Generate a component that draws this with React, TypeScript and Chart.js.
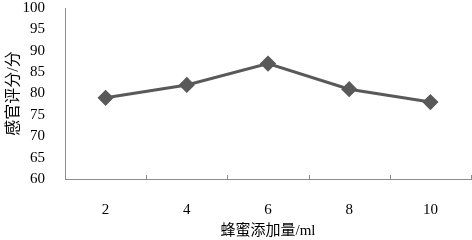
import React, { useEffect, useRef } from "react";
import { Chart, registerables } from "chart.js";

Chart.register(...registerables);

const categories = ["2", "4", "6", "8", "10"];
const scores = [79, 82, 87, 81, 78];
const yMin = 60;
const yMax = 100;
const yStep = 5;
const xTitle = "蜂蜜添加量/ml";
const yTitle = "感官评分/分";

const FONT = "'Liberation Serif', 'Times New Roman', 'Noto Sans CJK SC', serif";

const innerTicks = {
  id: "innerTicks",
  afterDraw(chart: any) {
    const x = chart.scales.x;
    const ctx = chart.ctx;
    ctx.save();
    ctx.strokeStyle = "#8c8c8c";
    ctx.lineWidth = 1;
    const n = x.ticks.length;
    for (let i = 0; i <= n; i++) {
      const px = Math.round(x.getPixelForValue(i - 0.5)) + 0.5;
      ctx.beginPath();
      ctx.moveTo(px, x.top);
      ctx.lineTo(px, x.top - 4);
      ctx.stroke();
    }
    ctx.restore();
  },
};

export default function App() {
  const ref = useRef<HTMLCanvasElement | null>(null);
  useEffect(() => {
    document.body.style.margin = "0";
    const chart = new Chart(ref.current!, {
      type: "line",
      data: {
        labels: categories,
        datasets: [
          {
            data: scores,
            borderColor: "#595959",
            backgroundColor: "#595959",
            borderWidth: 3,
            pointStyle: "rectRot",
            pointRadius: 6,
            pointHoverRadius: 6,
            tension: 0,
          },
        ],
      },
      options: {
        responsive: false,
        animation: false,
        layout: { padding: { top: 0, right: 0, left: 0, bottom: 0 } },
        plugins: { legend: { display: false }, tooltip: { enabled: false } },
        scales: {
          x: {
            offset: true,
            grid: { display: false, offset: true },
            border: { display: true, color: "#8c8c8c", width: 1 },
            ticks: { color: "#000", font: { family: FONT, size: 15 }, padding: 14, autoSkip: false, maxRotation: 0 },
            title: {
              display: true,
              text: xTitle,
              color: "#000",
              font: { family: FONT, size: 15 },
              padding: { top: 6, bottom: 0 },
            },
            afterFit(s: any) {
              s.height = 61;
            },
          },
          y: {
            min: yMin,
            max: yMax,
            grid: { display: false },
            border: { display: true, color: "#8c8c8c", width: 1 },
            ticks: {
              stepSize: yStep,
              autoSkip: false,
              color: "#000",
              font: { family: FONT, size: 15 },
              padding: 12,
            },
            title: {
              display: true,
              text: yTitle,
              color: "#000",
              font: { family: FONT, size: 16 },
              padding: { top: 4, bottom: 4 },
            },
            afterFit(s: any) {
              s.width = 65;
            },
          },
        },
      },
      plugins: [innerTicks],
    });
    return () => chart.destroy();
  }, []);
  return (
    <div style={{ position: "relative", width: 472, height: 240, overflow: "hidden" }}>
      <canvas
        ref={ref}
        width={480}
        height={253}
        style={{ position: "absolute", left: 0, top: -13 }}
      />
    </div>
  );
}
